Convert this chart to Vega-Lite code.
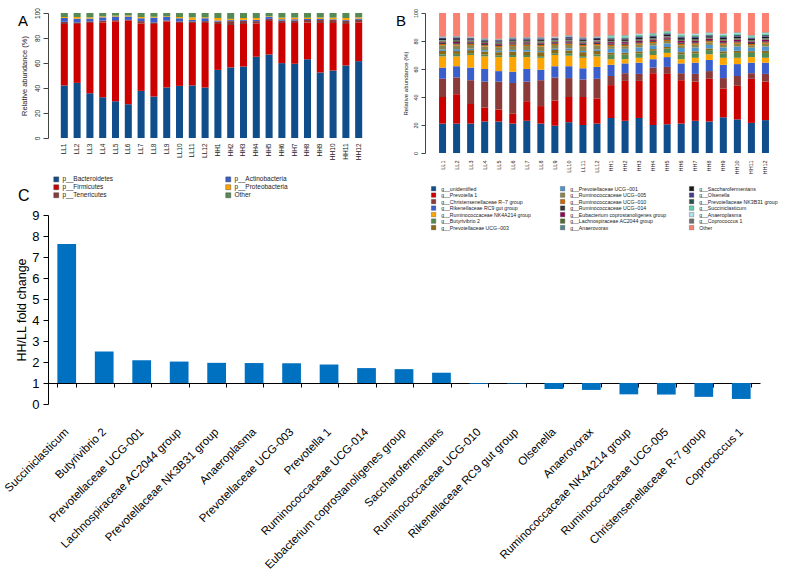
{
  "$schema": "https://vega.github.io/schema/vega-lite/v6.json",
  "background": "white",
  "padding": {"left": 2, "top": 7, "right": 0, "bottom": 0},
  "bounds": "flush",
  "config": {
    "font": "Liberation Sans",
    "view": {"stroke": null},
    "axis": {"grid": false, "labelFont": "Liberation Sans", "titleFont": "Liberation Sans", "titleFontWeight": "normal"},
    "legend": {"labelFont": "Liberation Sans"},
    "title": {"font": "Liberation Sans", "fontWeight": "normal", "color": "#000"}
  },
  "resolve": {"scale": {"x": "independent", "y": "independent", "color": "independent"}, "legend": {"color": "independent"}},
  "datasets": {
    "a": [
      {"s": "LL1", "ba": 42.0, "fi": 49.2, "te": 1.8, "ac": 3.0, "pr": 0.8, "ot": 3.2},
      {"s": "LL2", "ba": 44.1, "fi": 47.1, "te": 1.3, "ac": 3.0, "pr": 1.3, "ot": 3.2},
      {"s": "LL3", "ba": 35.8, "fi": 56.2, "te": 1.3, "ac": 2.2, "pr": 1.0, "ot": 3.5},
      {"s": "LL4", "ba": 32.6, "fi": 59.9, "te": 1.5, "ac": 2.5, "pr": 0.8, "ot": 2.7},
      {"s": "LL5", "ba": 29.4, "fi": 63.9, "te": 1.0, "ac": 2.9, "pr": 0.7, "ot": 2.1},
      {"s": "LL6", "ba": 27.0, "fi": 67.1, "te": 0.4, "ac": 2.7, "pr": 0.8, "ot": 2.0},
      {"s": "LL7", "ba": 37.7, "fi": 54.0, "te": 1.8, "ac": 2.3, "pr": 1.0, "ot": 3.2},
      {"s": "LL8", "ba": 33.2, "fi": 58.0, "te": 1.3, "ac": 3.8, "pr": 0.7, "ot": 3.0},
      {"s": "LL9", "ba": 40.4, "fi": 52.9, "te": 0.7, "ac": 2.8, "pr": 0.5, "ot": 2.7},
      {"s": "LL10", "ba": 41.7, "fi": 50.3, "te": 1.3, "ac": 2.5, "pr": 1.0, "ot": 3.2},
      {"s": "LL11", "ba": 42.0, "fi": 50.0, "te": 1.3, "ac": 1.2, "pr": 2.0, "ot": 3.5},
      {"s": "LL12", "ba": 40.4, "fi": 51.6, "te": 1.5, "ac": 2.3, "pr": 0.7, "ot": 3.5},
      {"s": "HH1", "ba": 54.5, "fi": 36.7, "te": 2.0, "ac": 0.8, "pr": 2.0, "ot": 4.0},
      {"s": "HH2", "ba": 56.4, "fi": 34.0, "te": 3.1, "ac": 0.8, "pr": 1.0, "ot": 4.7},
      {"s": "HH3", "ba": 57.2, "fi": 34.0, "te": 2.6, "ac": 0.7, "pr": 1.5, "ot": 4.0},
      {"s": "HH4", "ba": 65.0, "fi": 26.7, "te": 1.8, "ac": 1.0, "pr": 1.5, "ot": 4.0},
      {"s": "HH5", "ba": 66.8, "fi": 26.8, "te": 1.7, "ac": 1.5, "pr": 0.5, "ot": 2.7},
      {"s": "HH6", "ba": 59.9, "fi": 32.1, "te": 2.0, "ac": 1.0, "pr": 1.3, "ot": 3.7},
      {"s": "HH7", "ba": 59.4, "fi": 32.6, "te": 2.0, "ac": 1.0, "pr": 1.3, "ot": 3.7},
      {"s": "HH8", "ba": 63.1, "fi": 29.4, "te": 2.0, "ac": 0.8, "pr": 1.0, "ot": 3.7},
      {"s": "HH9", "ba": 52.4, "fi": 39.6, "te": 2.5, "ac": 0.8, "pr": 1.2, "ot": 3.5},
      {"s": "HH10", "ba": 54.0, "fi": 38.0, "te": 2.5, "ac": 0.5, "pr": 1.3, "ot": 3.7},
      {"s": "HH11", "ba": 58.0, "fi": 33.2, "te": 2.6, "ac": 0.7, "pr": 1.5, "ot": 4.0},
      {"s": "HH12", "ba": 61.5, "fi": 31.0, "te": 2.0, "ac": 1.0, "pr": 1.0, "ot": 3.5}
    ],
    "ta": [
      {"k": "ba", "label": "p__Bacteroidetes", "o": 1},
      {"k": "fi", "label": "p__Firmicutes", "o": 2},
      {"k": "te", "label": "p__Tenericutes", "o": 3},
      {"k": "ac", "label": "p__Actinobacteria", "o": 4},
      {"k": "pr", "label": "p__Proteobacteria", "o": 5},
      {"k": "ot", "label": "Other", "o": 6}
    ],
    "b": [
      {"s": "LL1", "u": 21, "p1": 19, "r7": 13, "rc": 8, "nk": 8, "bu": 1.5, "p3": 2.4, "pu": 1.2, "r5": 2.8, "r10": 1.0, "r14": 0.9, "eu": 0.8, "ac": 0.8, "av": 0.3, "sa": 0.7, "ol": 0.8, "nk3": 0.3, "su": 0.2, "ap": 0.2, "co": 0.4, "ot": 16.7},
      {"s": "LL2", "u": 21, "p1": 21, "r7": 12, "rc": 8, "nk": 7, "bu": 1.8, "p3": 2.0, "pu": 1.4, "r5": 2.5, "r10": 0.9, "r14": 0.8, "eu": 0.9, "ac": 0.7, "av": 0.4, "sa": 0.9, "ol": 1.0, "nk3": 0.4, "su": 0.3, "ap": 0.2, "co": 0.4, "ot": 16.4},
      {"s": "LL3", "u": 21, "p1": 14, "r7": 17, "rc": 9, "nk": 9, "bu": 1.3, "p3": 2.2, "pu": 1.0, "r5": 2.6, "r10": 0.9, "r14": 0.8, "eu": 0.7, "ac": 0.7, "av": 0.3, "sa": 0.7, "ol": 0.8, "nk3": 0.2, "su": 0.2, "ap": 0.2, "co": 0.4, "ot": 17.0},
      {"s": "LL4", "u": 22.5, "p1": 10, "r7": 18.5, "rc": 9, "nk": 9, "bu": 1.3, "p3": 2.2, "pu": 1.0, "r5": 2.6, "r10": 0.9, "r14": 0.8, "eu": 0.7, "ac": 0.7, "av": 0.3, "sa": 0.7, "ol": 0.8, "nk3": 0.2, "su": 0.2, "ap": 0.2, "co": 0.4, "ot": 18.0},
      {"s": "LL5", "u": 22.5, "p1": 8.5, "r7": 20, "rc": 7.5, "nk": 10, "bu": 1.3, "p3": 2.2, "pu": 1.0, "r5": 2.6, "r10": 0.9, "r14": 0.8, "eu": 0.7, "ac": 0.7, "av": 0.3, "sa": 0.7, "ol": 0.8, "nk3": 0.2, "su": 0.2, "ap": 0.2, "co": 0.4, "ot": 18.5},
      {"s": "LL6", "u": 21, "p1": 7, "r7": 22, "rc": 8, "nk": 10.5, "bu": 1.5, "p3": 2.4, "pu": 1.2, "r5": 2.8, "r10": 1.0, "r14": 0.9, "eu": 0.8, "ac": 0.8, "av": 0.3, "sa": 0.7, "ol": 0.8, "nk3": 0.3, "su": 0.2, "ap": 0.2, "co": 0.4, "ot": 17.2},
      {"s": "LL7", "u": 23, "p1": 14, "r7": 14, "rc": 9, "nk": 8.5, "bu": 1.5, "p3": 2.4, "pu": 1.2, "r5": 2.8, "r10": 1.0, "r14": 0.9, "eu": 0.8, "ac": 0.8, "av": 0.3, "sa": 0.7, "ol": 0.8, "nk3": 0.3, "su": 0.2, "ap": 0.2, "co": 0.4, "ot": 17.2},
      {"s": "LL8", "u": 21, "p1": 12.5, "r7": 18.5, "rc": 7.5, "nk": 8.5, "bu": 1.2, "p3": 2.8, "pu": 0.9, "r5": 3.2, "r10": 1.1, "r14": 1.0, "eu": 0.7, "ac": 0.9, "av": 0.3, "sa": 0.8, "ol": 0.9, "nk3": 0.2, "su": 0.2, "ap": 0.2, "co": 0.5, "ot": 17.1},
      {"s": "LL9", "u": 19.5, "p1": 18, "r7": 16.5, "rc": 8, "nk": 8, "bu": 1.3, "p3": 2.2, "pu": 1.0, "r5": 2.6, "r10": 0.9, "r14": 0.8, "eu": 0.7, "ac": 0.7, "av": 0.3, "sa": 0.7, "ol": 0.8, "nk3": 0.2, "su": 0.2, "ap": 0.2, "co": 0.4, "ot": 17.0},
      {"s": "LL10", "u": 22, "p1": 18, "r7": 13.5, "rc": 8.5, "nk": 7.5, "bu": 1.8, "p3": 2.0, "pu": 1.4, "r5": 2.5, "r10": 0.9, "r14": 0.8, "eu": 0.9, "ac": 0.7, "av": 0.4, "sa": 0.9, "ol": 1.0, "nk3": 0.4, "su": 0.3, "ap": 0.2, "co": 0.4, "ot": 15.9},
      {"s": "LL11", "u": 20, "p1": 20, "r7": 12.5, "rc": 8, "nk": 7.5, "bu": 1.2, "p3": 2.8, "pu": 0.9, "r5": 3.2, "r10": 1.1, "r14": 1.0, "eu": 0.7, "ac": 0.9, "av": 0.3, "sa": 0.8, "ol": 0.9, "nk3": 0.2, "su": 0.2, "ap": 0.2, "co": 0.5, "ot": 17.1},
      {"s": "LL12", "u": 21, "p1": 18, "r7": 14, "rc": 8.5, "nk": 7.5, "bu": 1.5, "p3": 2.4, "pu": 1.2, "r5": 2.8, "r10": 1.0, "r14": 0.9, "eu": 0.8, "ac": 0.8, "av": 0.3, "sa": 0.7, "ol": 0.8, "nk3": 0.3, "su": 0.2, "ap": 0.2, "co": 0.4, "ot": 16.7},
      {"s": "HH1", "u": 25, "p1": 23.5, "r7": 6.5, "rc": 8, "nk": 4, "bu": 3.2, "p3": 1.4, "pu": 2.8, "r5": 1.9, "r10": 1.0, "r14": 0.8, "eu": 1.1, "ac": 0.6, "av": 0.3, "sa": 1.1, "ol": 0.6, "nk3": 0.6, "su": 1.1, "ap": 0.4, "co": 0.4, "ot": 15.7},
      {"s": "HH2", "u": 23, "p1": 28.5, "r7": 5.5, "rc": 7, "nk": 3, "bu": 3.2, "p3": 1.4, "pu": 2.8, "r5": 1.9, "r10": 1.0, "r14": 0.8, "eu": 1.1, "ac": 0.6, "av": 0.3, "sa": 1.1, "ol": 0.6, "nk3": 0.6, "su": 1.1, "ap": 0.4, "co": 0.4, "ot": 15.7},
      {"s": "HH3", "u": 25, "p1": 26.5, "r7": 5, "rc": 8, "nk": 3.5, "bu": 3.2, "p3": 1.4, "pu": 2.8, "r5": 1.9, "r10": 1.0, "r14": 0.8, "eu": 1.1, "ac": 0.6, "av": 0.3, "sa": 1.1, "ol": 0.6, "nk3": 0.6, "su": 1.1, "ap": 0.4, "co": 0.4, "ot": 14.7},
      {"s": "HH4", "u": 20, "p1": 37, "r7": 4, "rc": 6, "nk": 3, "bu": 3.0, "p3": 1.2, "pu": 2.5, "r5": 1.8, "r10": 0.9, "r14": 0.7, "eu": 1.0, "ac": 0.5, "av": 0.3, "sa": 1.0, "ol": 0.6, "nk3": 0.5, "su": 1.0, "ap": 0.3, "co": 0.4, "ot": 14.3},
      {"s": "HH5", "u": 20.5, "p1": 36, "r7": 5, "rc": 7, "nk": 3, "bu": 3.0, "p3": 1.2, "pu": 2.5, "r5": 1.8, "r10": 0.9, "r14": 0.7, "eu": 1.0, "ac": 0.5, "av": 0.3, "sa": 1.0, "ol": 0.6, "nk3": 0.5, "su": 1.0, "ap": 0.3, "co": 0.4, "ot": 12.8},
      {"s": "HH6", "u": 21, "p1": 31, "r7": 5, "rc": 7, "nk": 3, "bu": 3.5, "p3": 1.5, "pu": 3.0, "r5": 2.0, "r10": 1.0, "r14": 0.8, "eu": 1.2, "ac": 0.6, "av": 0.3, "sa": 1.2, "ol": 0.6, "nk3": 0.6, "su": 1.2, "ap": 0.4, "co": 0.4, "ot": 14.7},
      {"s": "HH7", "u": 23, "p1": 28, "r7": 5.5, "rc": 8, "nk": 3.5, "bu": 3.2, "p3": 1.4, "pu": 2.8, "r5": 1.9, "r10": 1.0, "r14": 0.8, "eu": 1.1, "ac": 0.6, "av": 0.3, "sa": 1.1, "ol": 0.6, "nk3": 0.6, "su": 1.1, "ap": 0.4, "co": 0.4, "ot": 14.7},
      {"s": "HH8", "u": 22.5, "p1": 30.5, "r7": 5.5, "rc": 8, "nk": 4, "bu": 3.0, "p3": 1.2, "pu": 2.5, "r5": 1.8, "r10": 0.9, "r14": 0.7, "eu": 1.0, "ac": 0.5, "av": 0.3, "sa": 1.0, "ol": 0.6, "nk3": 0.5, "su": 1.0, "ap": 0.3, "co": 0.4, "ot": 13.8},
      {"s": "HH9", "u": 25.5, "p1": 20.5, "r7": 7.5, "rc": 9.5, "nk": 5, "bu": 3.2, "p3": 1.4, "pu": 2.8, "r5": 1.9, "r10": 1.0, "r14": 0.8, "eu": 1.1, "ac": 0.6, "av": 0.3, "sa": 1.1, "ol": 0.6, "nk3": 0.6, "su": 1.1, "ap": 0.4, "co": 0.4, "ot": 14.7},
      {"s": "HH10", "u": 24, "p1": 24, "r7": 7, "rc": 8.5, "nk": 4.5, "bu": 3.5, "p3": 1.5, "pu": 3.0, "r5": 2.0, "r10": 1.0, "r14": 0.8, "eu": 1.2, "ac": 0.6, "av": 0.3, "sa": 1.2, "ol": 0.6, "nk3": 0.6, "su": 1.2, "ap": 0.4, "co": 0.4, "ot": 13.7},
      {"s": "HH11", "u": 21.5, "p1": 31.5, "r7": 4, "rc": 7.5, "nk": 4, "bu": 3.0, "p3": 1.2, "pu": 2.5, "r5": 1.8, "r10": 0.9, "r14": 0.7, "eu": 1.0, "ac": 0.5, "av": 0.3, "sa": 1.0, "ol": 0.6, "nk3": 0.5, "su": 1.0, "ap": 0.3, "co": 0.4, "ot": 15.8},
      {"s": "HH12", "u": 23.5, "p1": 27.5, "r7": 5.5, "rc": 8, "nk": 3.5, "bu": 3.5, "p3": 1.5, "pu": 3.0, "r5": 2.0, "r10": 1.0, "r14": 0.8, "eu": 1.2, "ac": 0.6, "av": 0.3, "sa": 1.2, "ol": 0.6, "nk3": 0.6, "su": 1.2, "ap": 0.4, "co": 0.4, "ot": 13.7}
    ],
    "tb": [
      {"k": "u", "label": "g__unidentified", "o": 1},
      {"k": "p1", "label": "g__Prevotella 1", "o": 2},
      {"k": "r7", "label": "g__Christensenellaceae R−7 group", "o": 3},
      {"k": "rc", "label": "g__Rikenellaceae RC9 gut group", "o": 4},
      {"k": "nk", "label": "g__Ruminococcaceae NK4A214 group", "o": 5},
      {"k": "bu", "label": "g__Butyrivibrio 2", "o": 6},
      {"k": "p3", "label": "g__Prevotellaceae UCG−003", "o": 7},
      {"k": "pu", "label": "g__Prevotellaceae UCG−001", "o": 8},
      {"k": "r5", "label": "g__Ruminococcaceae UCG−005", "o": 9},
      {"k": "r10", "label": "g__Ruminococcaceae UCG−010", "o": 10},
      {"k": "r14", "label": "g__Ruminococcaceae UCG−014", "o": 11},
      {"k": "eu", "label": "g__Eubacterium coprostanoligenes group", "o": 12},
      {"k": "ac", "label": "g__Lachnospiraceae AC2044 group", "o": 13},
      {"k": "av", "label": "g__Anaerovorax", "o": 14},
      {"k": "sa", "label": "g__Saccharofermentans", "o": 15},
      {"k": "ol", "label": "g__Olsenella", "o": 16},
      {"k": "nk3", "label": "g__Prevotellaceae NK3B31 group", "o": 17},
      {"k": "su", "label": "g__Succiniclasticum", "o": 18},
      {"k": "ap", "label": "g__Anaeroplasma", "o": 19},
      {"k": "co", "label": "g__Coprococcus 1", "o": 20},
      {"k": "ot", "label": "Other", "o": 21}
    ],
    "c": [
      {"g": "Succiniclasticum", "fc": 7.62},
      {"g": "Butyrivibrio 2", "fc": 2.5},
      {"g": "Prevotellaceae UCG-001", "fc": 2.08},
      {"g": "Lachnospiraceae AC2044 group", "fc": 2.02},
      {"g": "Prevotellaceae NK3B31 group", "fc": 1.96},
      {"g": "Anaeroplasma", "fc": 1.95},
      {"g": "Prevotellaceae UCG-003", "fc": 1.94},
      {"g": "Prevotella 1", "fc": 1.88},
      {"g": "Ruminococcaceae UCG-014", "fc": 1.71},
      {"g": "Eubacterium coprostanoligenes group", "fc": 1.66},
      {"g": "Saccharofermentans", "fc": 1.49},
      {"g": "Ruminococcaceae UCG-010", "fc": 0.96},
      {"g": "Rikenellaceae RC9 gut group", "fc": 0.97},
      {"g": "Olsenella", "fc": 0.71},
      {"g": "Anaerovorax", "fc": 0.67},
      {"g": "Ruminococcaceae NK4A214 group", "fc": 0.46},
      {"g": "Ruminococcaceae UCG-005", "fc": 0.45},
      {"g": "Christensenellaceae R-7 group", "fc": 0.34},
      {"g": "Coprococcus 1", "fc": 0.24}
    ]
  },
  "spacing": 202,
  "vconcat": [
    {
      "spacing": 50,
      "bounds": "flush",
      "resolve": {"scale": {"x": "independent", "y": "independent", "color": "independent"}, "legend": {"color": "independent"}},
      "hconcat": [
        {
          "width": 327,
          "height": 125,
          "title": {"text": "A", "anchor": "start", "frame": "group", "fontSize": 15, "dy": 21, "dx": -30, "offset": 0},
          "data": {"name": "a"},
          "transform": [
            {"fold": ["ba", "fi", "te", "ac", "pr", "ot"], "as": ["k", "v"]},
            {"lookup": "k", "from": {"data": {"name": "ta"}, "key": "k", "fields": ["label", "o"]}}
          ],
          "mark": {"type": "bar"},
          "encoding": {
            "x": {
              "field": "s", "type": "nominal",
              "sort": ["LL1","LL2","LL3","LL4","LL5","LL6","LL7","LL8","LL9","LL10","LL11","LL12","HH1","HH2","HH3","HH4","HH5","HH6","HH7","HH8","HH9","HH10","HH11","HH12"],
              "scale": {"paddingInner": 0.45, "paddingOuter": 1.0},
              "axis": {"title": null, "labelAngle": -90, "domain": false, "ticks": false, "labelFontSize": 6.5, "labelPadding": 5, "labelColor": "#222"}
            },
            "y": {
              "field": "v", "type": "quantitative", "stack": "zero",
              "scale": {"domain": [0, 100]},
              "axis": {"title": "Relative abundance (%)", "values": [0, 20, 40, 60, 80, 100], "labelAngle": -90, "labelFontSize": 6.5, "titleFontSize": 7.5, "tickSize": 5, "labelPadding": 3, "titlePadding": 6, "domainColor": "#444", "tickColor": "#444", "labelColor": "#222", "titleColor": "#222"}
            },
            "color": {
              "field": "label", "type": "nominal",
              "scale": {
                "domain": ["p__Bacteroidetes", "p__Firmicutes", "p__Tenericutes", "p__Actinobacteria", "p__Proteobacteria", "Other"],
                "range": ["#104E8B", "#CD0000", "#8B3A3A", "#3A5FCD", "#FFA500", "#548B54"]
              },
              "legend": {"title": null, "orient": "none", "legendX": 5, "legendY": 163, "columns": 2, "columnPadding": 110, "rowPadding": 0, "symbolType": "square", "symbolSize": 25, "symbolStrokeColor": "#333", "symbolStrokeWidth": 0.4, "labelFontSize": 6.5, "labelOffset": 3, "labelColor": "#222"}
            },
            "order": {"field": "o", "type": "quantitative"}
          }
        },
        {
          "width": 358,
          "height": 140,
          "title": {"text": "B", "anchor": "start", "frame": "group", "fontSize": 15, "dy": 21, "offset": 0, "dx": -29},
          "data": {"name": "b"},
          "transform": [
            {"fold": ["u", "p1", "r7", "rc", "nk", "bu", "p3", "pu", "r5", "r10", "r14", "eu", "ac", "av", "sa", "ol", "nk3", "su", "ap", "co", "ot"], "as": ["k", "v"]},
            {"lookup": "k", "from": {"data": {"name": "tb"}, "key": "k", "fields": ["label", "o"]}}
          ],
          "mark": {"type": "bar"},
          "encoding": {
            "x": {
              "field": "s", "type": "nominal",
              "sort": ["LL1","LL2","LL3","LL4","LL5","LL6","LL7","LL8","LL9","LL10","LL11","LL12","HH1","HH2","HH3","HH4","HH5","HH6","HH7","HH8","HH9","HH10","HH11","HH12"],
              "scale": {"paddingInner": 0.5, "paddingOuter": 1.07},
              "axis": {"title": null, "labelAngle": -90, "domain": false, "ticks": false, "labelFontSize": 5.5, "labelPadding": 7, "labelColor": "#222"}
            },
            "y": {
              "field": "v", "type": "quantitative", "stack": "zero",
              "scale": {"domain": [0, 100]},
              "axis": {"title": "Relative abundance (%)", "values": [0, 20, 40, 60, 80, 100], "labelAngle": -90, "labelFontSize": 5.5, "titleFontSize": 6, "tickSize": 4, "labelPadding": 3, "titlePadding": 5, "domainColor": "#444", "tickColor": "#444", "labelColor": "#222", "titleColor": "#222"}
            },
            "color": {
              "field": "label", "type": "nominal",
              "scale": {
                "domain": [
                  "g__unidentified", "g__Prevotella 1", "g__Christensenellaceae R−7 group", "g__Rikenellaceae RC9 gut group", "g__Ruminococcaceae NK4A214 group", "g__Butyrivibrio 2", "g__Prevotellaceae UCG−003",
                  "g__Prevotellaceae UCG−001", "g__Ruminococcaceae UCG−005", "g__Ruminococcaceae UCG−010", "g__Ruminococcaceae UCG−014", "g__Eubacterium coprostanoligenes group", "g__Lachnospiraceae AC2044 group", "g__Anaerovorax",
                  "g__Saccharofermentans", "g__Olsenella", "g__Prevotellaceae NK3B31 group", "g__Succiniclasticum", "g__Anaeroplasma", "g__Coprococcus 1", "Other"
                ],
                "range": [
                  "#104E8B", "#CD0000", "#8B3A3A", "#3A5FCD", "#FFA500", "#548B54", "#8B6914",
                  "#4F94CD", "#8B864E", "#CD6600", "#363636", "#8B0A50", "#556B2F", "#53868B",
                  "#1A1A1A", "#483D8B", "#2F4F4F", "#66CDAA", "#B2DFEE", "#6E6E6E", "#FA8072"
                ]
              },
              "legend": {"title": null, "orient": "none", "legendX": 6, "legendY": 173, "columns": 3, "gridAlign": "all", "columnPadding": 21, "rowPadding": -0.5, "symbolType": "square", "symbolSize": 20, "symbolStrokeColor": "#333", "symbolStrokeWidth": 0.3, "labelFontSize": 5.2, "labelOffset": 5, "labelColor": "#222", "labelLimit": 200}
            },
            "order": {"field": "o", "type": "quantitative"}
          }
        }
      ]
    },
    {
      "width": 712,
      "height": 189,
      "title": {"text": "C", "anchor": "start", "frame": "group", "fontSize": 16, "offset": 5, "dx": -30},
      "data": {"name": "c"},
      "mark": {"type": "bar", "color": "#0070C0"},
      "encoding": {
        "x": {
          "field": "g", "type": "nominal", "sort": null,
          "scale": {"paddingInner": 0.5, "paddingOuter": 0.25},
          "axis": {"title": null, "labelAngle": -45, "labelAlign": "right", "labelBaseline": "middle", "offset": -21, "tickBand": "extent", "domainColor": "#000", "tickColor": "#000", "tickSize": 4, "labelFontSize": 11.5, "labelPadding": 43, "labelOffset": 0, "labelColor": "#000", "labelLimit": 400}
        },
        "y": {
          "field": "fc", "type": "quantitative",
          "scale": {"domain": [0, 9]},
          "axis": {"title": "HH/LL fold change", "values": [0, 1, 2, 3, 4, 5, 6, 7, 8, 9], "labelFontSize": 13, "titleFontSize": 12.5, "tickSize": 5, "labelPadding": 4, "titlePadding": 3, "domainColor": "#000", "tickColor": "#000", "labelColor": "#000", "titleColor": "#000"}
        },
        "y2": {"datum": 1}
      }
    }
  ]
}
